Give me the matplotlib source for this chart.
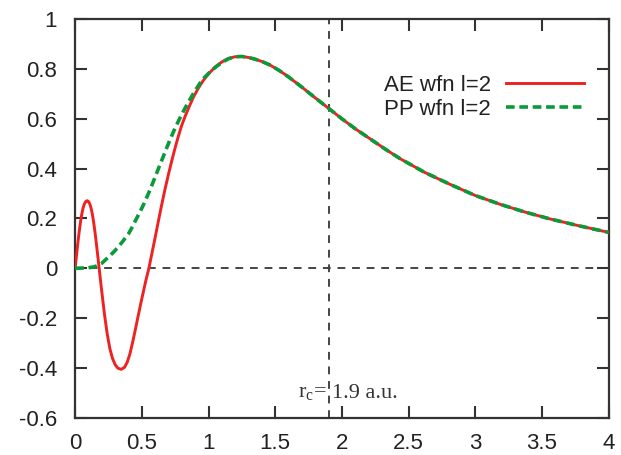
import matplotlib
matplotlib.use("Agg")
import matplotlib.pyplot as plt

plt.rcParams["font.family"] = ["Liberation Sans", "DejaVu Sans"]
plt.rcParams["axes.unicode_minus"] = False
plt.rcParams["mathtext.fontset"] = "custom"
plt.rcParams["mathtext.rm"] = "Liberation Serif"

# All-electron radial wavefunction, l=2
ae_r = [0.00, 0.01, 0.02, 0.03, 0.04, 0.05, 0.06, 0.07, 0.08, 0.09, 0.10,
        0.11, 0.12, 0.13, 0.14, 0.15, 0.16, 0.17, 0.18, 0.20, 0.22, 0.24,
        0.26, 0.28, 0.30, 0.32, 0.345, 0.37, 0.39, 0.41, 0.43, 0.45, 0.47,
        0.49, 0.51, 0.53, 0.553, 0.575, 0.598, 0.623, 0.648, 0.673, 0.698,
        0.723, 0.748, 0.773, 0.798, 0.825, 0.85, 0.885, 0.923, 0.96, 1.00,
        1.05, 1.10, 1.15, 1.20, 1.25, 1.30, 1.35, 1.40, 1.46, 1.53, 1.60,
        1.70, 1.80, 1.905, 2.00, 2.10, 2.21, 2.32, 2.436, 2.62, 2.81, 3.00,
        3.19, 3.37, 3.56, 3.78, 4.00]
ae_psi = [0.000, 0.050, 0.100, 0.145, 0.185, 0.218, 0.243, 0.259, 0.268,
          0.271, 0.268, 0.258, 0.240, 0.214, 0.180, 0.140, 0.095, 0.048,
          0.000, -0.095, -0.185, -0.262, -0.322, -0.362, -0.387, -0.401,
          -0.406, -0.398, -0.378, -0.345, -0.300, -0.250, -0.198, -0.147,
          -0.098, -0.050, 0.000, 0.058, 0.118, 0.186, 0.252, 0.315, 0.373,
          0.428, 0.480, 0.528, 0.572, 0.610, 0.642, 0.685, 0.722, 0.753,
          0.780, 0.808, 0.828, 0.842, 0.849, 0.850, 0.846, 0.839, 0.830,
          0.816, 0.794, 0.768, 0.727, 0.684, 0.640, 0.600, 0.560, 0.520,
          0.480, 0.440, 0.385, 0.337, 0.292, 0.256, 0.226, 0.198, 0.170,
          0.144]

# Pseudo wavefunction, l=2
pp_r = [0.00, 0.05, 0.10, 0.148, 0.20, 0.248, 0.285, 0.323, 0.36, 0.40,
        0.43, 0.46, 0.485, 0.51, 0.535, 0.56, 0.585, 0.61, 0.635, 0.66,
        0.685, 0.71, 0.735, 0.76, 0.785, 0.81, 0.84, 0.873, 0.905, 0.935,
        0.965, 1.00, 1.05, 1.10, 1.15, 1.20, 1.25, 1.30, 1.35, 1.40, 1.46,
        1.53, 1.60, 1.70, 1.80, 1.905, 2.00, 2.10, 2.21, 2.32, 2.436, 2.62,
        2.81, 3.00, 3.19, 3.37, 3.56, 3.78, 4.00]
pp_psi = [0.000, 0.0005, 0.002, 0.006, 0.020, 0.044, 0.063, 0.085, 0.110,
          0.138, 0.167, 0.199, 0.225, 0.252, 0.282, 0.313, 0.346, 0.380,
          0.414, 0.447, 0.481, 0.514, 0.545, 0.574, 0.602, 0.628, 0.658,
          0.689, 0.717, 0.742, 0.763, 0.782, 0.806, 0.826, 0.841, 0.849,
          0.850, 0.846, 0.839, 0.830, 0.816, 0.794, 0.768, 0.727, 0.684,
          0.640, 0.600, 0.560, 0.520, 0.480, 0.440, 0.385, 0.337, 0.292,
          0.256, 0.226, 0.198, 0.170, 0.144]

r_cut = 1.9
x_ticks = [0, 0.5, 1, 1.5, 2, 2.5, 3, 3.5, 4]
x_labels = ["0", "0.5", "1", "1.5", "2", "2.5", "3", "3.5", "4"]
y_ticks = [-0.6, -0.4, -0.2, 0, 0.2, 0.4, 0.6, 0.8, 1]
y_labels = ["-0.6", "-0.4", "-0.2", "0", "0.2", "0.4", "0.6", "0.8", "1"]

fig = plt.figure(figsize=(6.21, 4.55), dpi=100)
ax = fig.add_axes([0.121, 0.082, 0.859, 0.876])

ax.axhline(0, color="#444444", lw=1.4, ls=(0, (4, 3.5)), zorder=1)
ax.axvline(r_cut, color="#444444", lw=1.4, ls=(0, (4, 3.5)), zorder=1)

ax.plot(ae_r, ae_psi, color="#ee2222", lw=2.1, label="AE wfn l=2", zorder=3)
ax.plot(pp_r, pp_psi, color="#0a9a3a", lw=2.6, ls=(0, (2.4, 1.3)),
        label="PP wfn l=2", zorder=4)

ax.set_xlim(0, 4)
ax.set_ylim(-0.6, 1)
ax.set_xticks(x_ticks)
ax.set_xticklabels(x_labels)
ax.set_yticks(y_ticks)
ax.set_yticklabels(y_labels)
ax.tick_params(direction="in", length=8.5, width=1.5, color="#333333",
               top=True, right=True, labelsize=16, labelcolor="#222222")
ax.tick_params(axis="y", pad=13)
ax.tick_params(axis="x", pad=11)
for s in ax.spines.values():
    s.set_color("#333333")
    s.set_linewidth(1.6)

# cutoff radius annotation, split around the dashed marker line
serif = ["Liberation Serif", "DejaVu Serif"]
ax.text(r_cut - 0.012, -0.52, r"r$_{\mathrm{c}}$=", ha="right", va="baseline",
        fontsize=16, family=serif, color="#333333", zorder=5)
ax.text(r_cut + 0.025, -0.52, f"{r_cut} a.u.", ha="left", va="baseline",
        fontsize=16, family=serif, color="#333333", zorder=5)

leg = ax.legend(loc="upper right", bbox_to_anchor=(0.954, 0.86),
                frameon=False, markerfirst=False, fontsize=16,
                handlelength=3.5, handletextpad=0.68, labelspacing=0.12,
                borderpad=0, borderaxespad=0)
for t in leg.get_texts():
    t.set_color("#222222")

fig.savefig("out.png", dpi=100)
